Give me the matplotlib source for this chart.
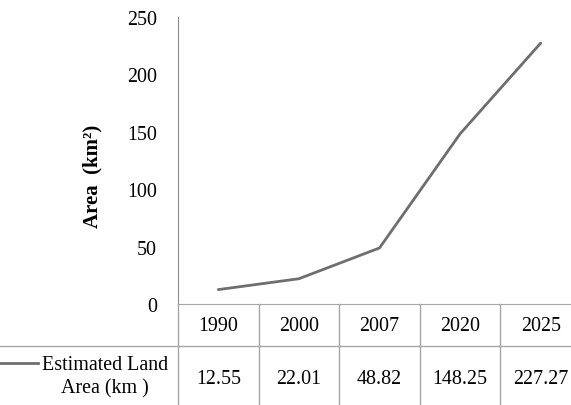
import matplotlib
matplotlib.use("Agg")
import matplotlib.pyplot as plt
from matplotlib.lines import Line2D

years = ["1990", "2000", "2007", "2020", "2025"]
area = [12.55, 22.01, 48.82, 148.25, 227.27]
value_labels = ["12.55", "22.01", "48.82", "148.25", "227.27"]
yticks = [0, 50, 100, 150, 200, 250]
series_name = "Estimated Land\nArea (km )"

W, H = 571, 406
plt.rcParams['font.family'] = ['Liberation Serif', 'DejaVu Serif']
fig = plt.figure(figsize=(W / 100, H / 100), dpi=100)

LC = "#6e6e6e"
GRID = "#a6a6a6"
FS = 14.4

x0, x1 = 178, 581
y_zero, y_top = 305, 18
ax = fig.add_axes([x0 / W, 1 - y_zero / H, (x1 - x0) / W, (y_zero - y_top) / H])
ax.set_xlim(-0.5, len(years) - 0.5)
ax.set_ylim(0, 250)
ax.plot(range(len(years)), area, color=LC, lw=2.0, solid_capstyle="round")
for s in ["top", "right"]:
    ax.spines[s].set_visible(False)
ax.spines["left"].set_color("#8c8c8c")
ax.spines["bottom"].set_color(GRID)
ax.set_xticks([])
ax.set_yticks(yticks)
ax.set_yticklabels([str(v) for v in yticks], fontsize=FS)
ax.tick_params(axis="y", length=0, pad=15)
ax.patch.set_visible(False)

# table area
axt = fig.add_axes([x0 / W, 0, (x1 - x0) / W, (H - y_zero) / H])
axt.set_xlim(-0.5, len(years) - 0.5)
axt.set_ylim(H, y_zero)  # pixel rows from top
axt.axis("off")
for i in range(len(years) + 1):
    axt.plot([i - 0.5, i - 0.5], [y_zero, H], color=GRID, lw=1.0, clip_on=False)
for i, (yr, v) in enumerate(zip(years, value_labels)):
    axt.text(i, 327, yr, ha="center", va="center", fontsize=FS)
    axt.text(i, 380, v, ha="center", va="center", fontsize=FS)

# row separator across full width
fig.add_artist(Line2D([0, 1], [1 - 347 / H, 1 - 347 / H], color=GRID, lw=1.0))
# legend key
fig.add_artist(Line2D([0, 38 / W], [1 - 364 / H, 1 - 364 / H], color=LC, lw=2.0))
fig.text(105 / W, 1 - 377 / H, series_name, ha="center", va="center",
         fontsize=FS, linespacing=1.3)

fig.text(92 / W, 1 - 176 / H, "Area  (km²)", rotation=90, ha="center", va="center",
         fontsize=15, fontweight="bold")

fig.savefig("out.png", dpi=100)
